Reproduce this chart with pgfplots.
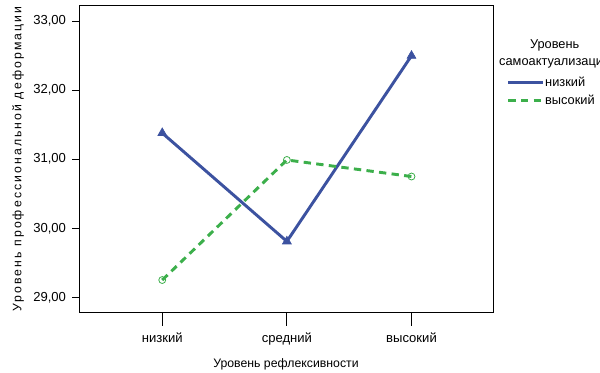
\documentclass[border=0pt]{standalone}
\usepackage{pgfplots}
\pgfplotsset{compat=1.18}
\usepackage{fontspec}
\setmainfont{Liberation Sans}
\definecolor{sblue}{RGB}{60,82,160}
\definecolor{sgreen}{RGB}{60,175,75}
\begin{document}
\begin{tikzpicture}
\path[use as bounding box] (0,0) rectangle (450pt,279pt);
\begin{axis}[
  at={(59.25pt,44.5pt)}, anchor=south west,
  scale only axis, width=310.5pt, height=230.25pt,
  xmin=-0.668, xmax=2.654, ymin=28.777, ymax=33.226,
  xtick={0,1,2}, xticklabels={низкий,средний,высокий},
  ytick={29,30,31,32,33},
  xtick pos=bottom, ytick pos=left,
  /pgf/number format/fixed, /pgf/number format/fixed zerofill,
  /pgf/number format/precision=2, /pgf/number format/use comma,
  /pgf/number format/assume math mode=true,
  tick align=outside, major tick length=5.25pt,
  tick style={black, line width=0.75pt},
  x tick style={/pgfplots/major tick length=9.75pt},
  axis line style={black, line width=0.75pt},
  tick label style={font=\fontsize{9.8}{11}\selectfont},
  xticklabel style={yshift=-6pt},
  yticklabel style={xshift=-1pt},
  label style={font=\fontsize{9.2}{11}\selectfont},
  xlabel={Уровень рефлексивности},
  ylabel={\addfontfeature{LetterSpace=17}Уровень профессиональной деформации},
  xlabel style={at={(axis description cs:0.5,0)}, anchor=center, yshift=-38.5pt},
  ylabel style={at={(axis description cs:0,0.5)}, anchor=center, yshift=45.75pt},
  legend style={at={(axis description cs:1.033,0.72)}, anchor=west, draw=none, fill=none, inner sep=0pt, row sep=3pt, font=\fontsize{9.6}{11}\selectfont, nodes={inner xsep=0.5pt, inner ysep=1pt}},
  legend cell align=left,
  legend image code/.code={\draw[#1] (0pt,0pt) -- (26pt,0pt);},
  clip=false,
]
\addplot[sblue, line width=2.2pt, mark=triangle*, mark size=3.8pt, mark options={solid, line width=0.5pt}]
  coordinates {(0,31.38) (1,29.81) (2,32.50)};
\addplot[sgreen, line width=2.2pt, dash pattern=on 5.5pt off 4pt, mark=o, mark size=2.6pt, mark options={solid, line width=0.6pt}]
  coordinates {(0,29.25) (1,30.99) (2,30.75)};
\legend{низкий,высокий}
\end{axis}
\node[align=center, font=\fontsize{9.6}{12.75}\selectfont] at (416pt,238.2pt) {Уровень\\самоактуализации};
\end{tikzpicture}
\end{document}
